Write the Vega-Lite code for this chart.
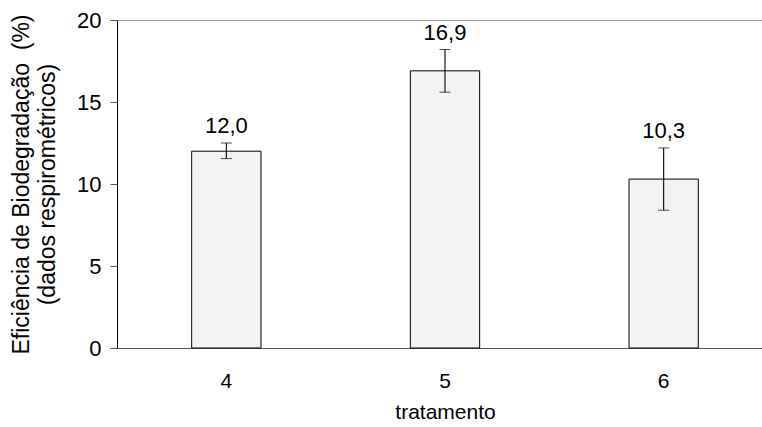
{
  "$schema": "https://vega.github.io/schema/vega-lite/v6.json",
  "autosize": "none",
  "width": 645,
  "height": 328,
  "padding": {"left": 117, "top": 20, "right": 0, "bottom": 79},
  "background": "white",
  "config": {
    "font": "Liberation Sans",
    "view": {"stroke": null},
    "locale": {"number": {"decimal": ",", "thousands": ".", "grouping": [3], "currency": ["", ""]}}
  },
  "data": {
    "values": [
      {"tratamento": "4", "value": 12.0, "lo": 11.55, "hi": 12.5},
      {"tratamento": "5", "value": 16.9, "lo": 15.6, "hi": 18.2},
      {"tratamento": "6", "value": 10.3, "lo": 8.4, "hi": 12.2}
    ]
  },
  "encoding": {
    "x": {
      "field": "tratamento",
      "type": "nominal",
      "scale": {"type": "band", "range": [0, 656], "paddingInner": 0.683, "paddingOuter": 0.3415},
      "axis": {
        "title": "tratamento",
        "labelAngle": 0,
        "ticks": false,
        "domainColor": "#555555",
        "labelFontSize": 21,
        "labelColor": "black",
        "labelPadding": 22,
        "titleFontSize": 21,
        "titleFontWeight": "normal",
        "titleColor": "black",
        "titlePadding": 10
      }
    },
    "y": {
      "field": "value",
      "type": "quantitative",
      "scale": {"domain": [0, 20], "nice": false},
      "axis": {
        "values": [0, 5, 10, 15, 20],
        "grid": true,
        "gridColor": "#999999",
        "gridOpacity": {"condition": {"test": "datum.value === 20", "value": 1}, "value": 0},
        "tickSize": 7,
        "tickColor": "#555555",
        "domainColor": "black",
        "labelFontSize": 22,
        "labelColor": "black",
        "labelPadding": 9,
        "title": ["Eficiência de Biodegradação \u00a0(%)", "(dados respirométricos)"],
        "titleFontSize": 23,
        "titleFontWeight": "normal",
        "titleColor": "black",
        "titleLineHeight": 26,
        "titlePadding": 17
      }
    }
  },
  "layer": [
    {
      "mark": {"type": "bar", "fill": "#f3f3f3", "stroke": "black", "strokeWidth": 1}
    },
    {
      "mark": {"type": "errorbar", "ticks": {"size": 11, "color": "black"}, "rule": {"color": "black", "strokeWidth": 1.1}},
      "encoding": {
        "y": {"field": "lo", "type": "quantitative"},
        "y2": {"field": "hi"}
      }
    },
    {
      "mark": {"type": "text", "baseline": "bottom", "dy": -5, "fontSize": 22, "color": "black"},
      "encoding": {
        "y": {"field": "hi", "type": "quantitative"},
        "text": {"field": "value", "type": "quantitative", "format": ".1f"}
      }
    }
  ]
}
